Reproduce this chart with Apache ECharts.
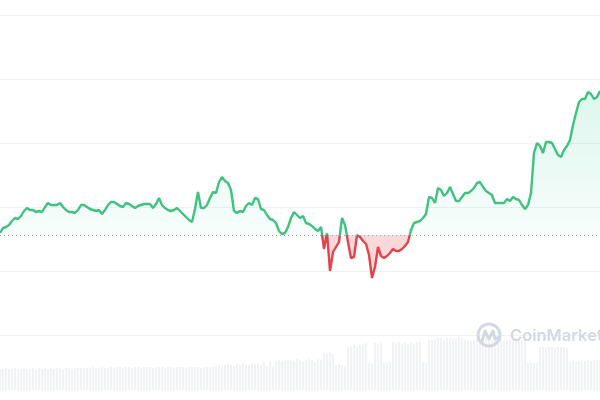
<!DOCTYPE html>
<html>
<head>
<meta charset="utf-8">
<script src="https://cdn.jsdelivr.net/npm/echarts@6/dist/echarts.min.js"></script>
<style>html,body{margin:0;padding:0;background:#fff;}#chart{width:600px;height:400px;}</style>
</head>
<body>
<div id="chart"></div>
<script>
// price values (chart units), one per period
const price = [
102,107,108,110,114,117,116,119,124,127,
125,125,123,124,123,128,132,130,130,130,
132,128,125,123,123,122,125,130,130,128,
126,125,124,125,121,125,130,133,133,131,
129,128,132,131,129,127,129,130,131,131,
131,127,131,137,130,127,125,124,125,127,
124,121,118,115,113,126,143,127,127,130,
137,143,142,153,158,154,152,145,124,122,
124,123,129,132,130,137,136,126,125,120,
116,115,112,104,101,102,108,117,123,120,
117,119,112,111,109,106,104,108,86,102,
64,83,88,93,117,110,93,77,78,100,
98,94,91,80,57,68,88,79,77,79,
82,86,84,84,86,89,93,105,112,113,
114,117,121,138,137,132,147,145,139,142,
148,141,134,134,138,142,142,144,147,152,
153,148,144,142,140,132,132,132,132,136,
134,138,136,135,130,126,130,142,182,192,
189,182,193,193,192,186,180,178,185,189,
195,210,222,233,236,236,243,241,236,238,
244
];
// volume values, one per period
const volume = [
21,21,22,21,21,22,21,21,22,21,
21,22,21,22,21,22,21,22,21,22,
22,21,22,22,21,22,22,22,22,22,
22,23,22,22,23,22,22,23,22,23,
23,22,23,23,22,23,23,22,23,23,
23,22,23,23,23,22,23,23,22,23,
23,23,22,23,23,23,23,22,23,23,
23,23,24,25,24,25,26,25,24,26,
25,27,26,25,27,26,27,25,28,24,
28,24,29,30,29,30,31,30,29,31,
30,29,30,31,30,28,31,30,37,36,
37,36,25,26,25,24,43,44,45,43,
45,46,47,27,26,47,46,47,27,28,
28,48,47,48,47,48,46,48,47,48,
48,28,27,50,50,51,52,52,51,52,
52,52,51,53,52,50,50,49,50,51,
50,51,52,51,50,50,50,51,50,49,
50,50,51,50,50,50,27,28,27,27,
43,43,42,43,43,42,43,43,43,42,
28,29,28,29,30,29,30,29,30,30,
30
];
const openPrice = 100;
const priceTicks = [0, 64, 128, 192, 256, 320];
const periods = price.map((_, i) => 'P' + (i + 1));

const green = '#3fc27f';
const red = '#e0434b';
const chart = echarts.init(document.getElementById('chart'), null, {renderer: 'canvas'});
const split = 235 / 400;
chart.setOption({
  animation: false,
  grid: [
    {left: 0, right: 0, top: 15, height: 320},
    {left: 0, right: 0, top: 335, height: 55}
  ],
  xAxis: [
    {type: 'category', data: periods, boundaryGap: false, gridIndex: 0, show: false},
    {type: 'category', data: periods, boundaryGap: false, gridIndex: 1, show: false}
  ],
  yAxis: [
    {type: 'value', gridIndex: 0, min: priceTicks[0], max: priceTicks[priceTicks.length - 1], interval: 64,
     axisLabel: {show: false}, axisLine: {show: false}, axisTick: {show: false},
     splitLine: {show: true, lineStyle: {color: '#eff1f4', width: 1}}},
    {type: 'value', gridIndex: 1, min: 0, max: 55, show: false, splitLine: {show: false}}
  ],
  graphic: [
    {type: 'circle', shape: {cx: 489, cy: 335, r: 11}, style: {fill: 'none', stroke: '#d3d8e3', lineWidth: 3}, z: 1},
    {type: 'polyline', shape: {points: [[482, 341], [485, 331], [489, 339], [493, 331], [495, 339], [499, 337]]},
     style: {fill: 'none', stroke: '#d3d8e3', lineWidth: 3, lineJoin: 'round', lineCap: 'round'}, z: 1},
    {type: 'text', left: 510, top: 328, style: {text: 'CoinMarketCap', fill: '#d3d8e3', font: '600 16.5px Inter, sans-serif'}, z: 1}
  ],
  series: [
    {
      type: 'bar', xAxisIndex: 1, yAxisIndex: 1, data: volume, barWidth: 2,
      itemStyle: {color: '#f1f2f4'}, silent: true, z: 0
    },
    {
      type: 'line', xAxisIndex: 0, yAxisIndex: 0, data: price, symbol: 'none', smooth: false,
      lineStyle: {width: 2.4, color: {type: 'linear', x: 0, y: 0, x2: 0, y2: 400, global: true,
        colorStops: [{offset: 0, color: green}, {offset: split, color: green}, {offset: split, color: red}, {offset: 1, color: red}]}},
      areaStyle: {origin: openPrice, opacity: 1, color: {type: 'linear', x: 0, y: 0, x2: 0, y2: 400, global: true,
        colorStops: [{offset: 0, color: 'rgba(22,199,132,0.22)'}, {offset: split, color: 'rgba(22,199,132,0.03)'},
                     {offset: split, color: 'rgba(234,57,67,0.2)'}, {offset: 1, color: 'rgba(234,57,67,0.2)'}]}},
      markLine: {silent: true, symbol: 'none', label: {show: false},
        lineStyle: {color: '#a3a8b0', type: [1, 3], width: 1}, data: [{yAxis: openPrice}]},
      z: 3
    }
  ]
});
</script>
</body>
</html>
